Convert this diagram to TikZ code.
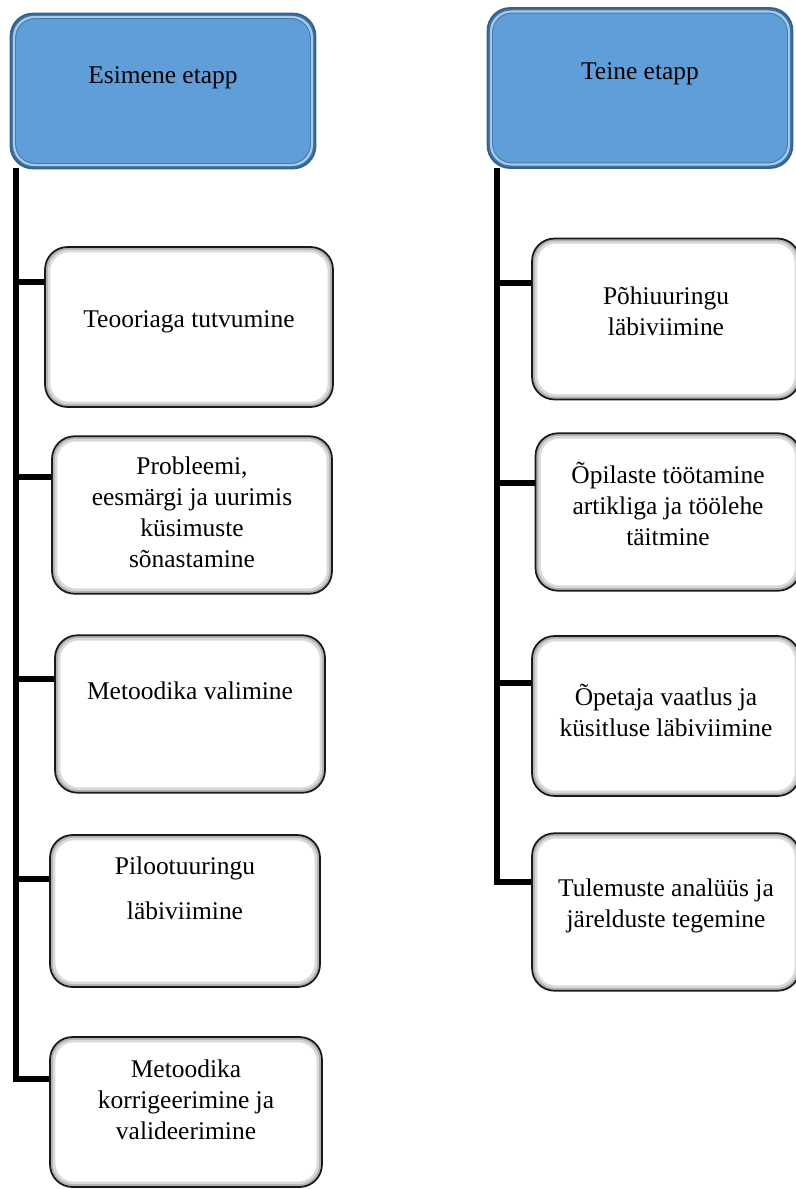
\documentclass[tikz,border=0pt]{standalone}
\usepackage{fontspec}
\setmainfont{Liberation Serif}
\usepackage{tikz}
\usetikzlibrary{positioning}
\definecolor{etappblue}{RGB}{95,158,217}
\definecolor{etappedge}{RGB}{52,98,142}

\begin{document}
\begin{tikzpicture}[x=0.02cm, y=-0.02cm, every node/.style={font=\fontsize{14.5}{17.6}\selectfont, align=center},
  etapp/.style={draw=etappedge, line width=1pt, fill=etappedge!75!etappblue, rounded corners=0.45cm, minimum width=6.1cm, minimum height=3.1cm,
    path picture={
      \fill[etappblue!55!white, rounded corners=0.42cm] ([shift={(1.4pt,-1.4pt)}]path picture bounding box.north west) rectangle ([shift={(-1.4pt,1.4pt)}]path picture bounding box.south east);
      \fill[etappedge!60!etappblue, rounded corners=0.4cm] ([shift={(2.6pt,-2.6pt)}]path picture bounding box.north west) rectangle ([shift={(-2.6pt,2.6pt)}]path picture bounding box.south east);
      \fill[etappblue, rounded corners=0.38cm] ([shift={(3.2pt,-3.2pt)}]path picture bounding box.north west) rectangle ([shift={(-3.2pt,3.2pt)}]path picture bounding box.south east);}},
  tegevus/.style={draw=black!90, line width=1pt, fill=gray!60, rounded corners=0.45cm, minimum height=3.15cm,
    path picture={
      \fill[gray!30, rounded corners=0.41cm] ([shift={(1.6pt,-1.6pt)}]path picture bounding box.north west) rectangle ([shift={(-1.6pt,1.6pt)}]path picture bounding box.south east);
      \fill[white, rounded corners=0.38cm] ([shift={(3pt,-3pt)}]path picture bounding box.north west) rectangle ([shift={(-3pt,3pt)}]path picture bounding box.south east);}},
  joon/.style={line width=3.4pt}]
\useasboundingbox (0,0) rectangle (795,1189);
% stages
\node[etapp, text depth=0.64cm] (esimene) at (163,91) {Esimene etapp};
\node[etapp, text depth=0.66cm, minimum height=3.2cm] (teine) at (640,88) {Teine etapp};
% first stage
\node[tegevus, minimum width=5.76cm, minimum height=3.2cm, text depth=0.3cm] (teooria) at (189,327) {Teooriaga tutvumine};
\node[tegevus, minimum width=5.6cm, text depth=0.1cm] (probleem) at (192,515) {Probleemi,\\ eesmärgi ja uurimis\\ küsimuste\\ sõnastamine};
\node[tegevus, minimum width=5.4cm, text depth=0.94cm] (valik) at (190,714) {Metoodika valimine};
\node[tegevus, minimum width=5.4cm, minimum height=3.04cm, text depth=0.92cm] (piloot) at (185,911) {Pilootuuringu\\[0.28cm] läbiviimine};
\node[tegevus, minimum width=5.44cm, minimum height=3.0cm, text depth=0.5cm] (korrigeerimine) at (186,1112) {Metoodika\\ korrigeerimine ja\\ valideerimine};
% second stage
\node[tegevus, minimum width=5.36cm, minimum height=3.22cm, text depth=0.3cm] (pohiuuring) at (666,319) {Põhiuuringu\\ läbiviimine};
\node[tegevus, minimum width=5.3cm, text depth=0.34cm] (artikkel) at (668,512) {Õpilaste töötamine\\ artikliga ja töölehe\\ täitmine};
\node[tegevus, minimum width=5.36cm, minimum height=3.2cm, text depth=0.24cm] (vaatlus) at (666,716) {Õpetaja vaatlus ja\\ küsitluse läbiviimine};
\node[tegevus, minimum width=5.36cm, text depth=0.34cm] (tulemused) at (666,912) {Tulemuste analüüs ja\\ järelduste tegemine};
% connectors
\coordinate (esimene juur) at (16,168);
\coordinate (teine juur) at (497,168);
\draw[joon] (esimene juur) |- ([yshift=-0.72cm]teooria.north west);
\draw[joon] (esimene juur) |- ([yshift=-0.84cm]probleem.north west);
\draw[joon] (esimene juur) |- ([yshift=-0.9cm]valik.north west);
\draw[joon] (esimene juur) |- ([yshift=-0.9cm]piloot.north west);
\draw[joon] (esimene juur) |- ([yshift=-0.86cm]korrigeerimine.north west);
\draw[joon] (teine juur) |- ([yshift=-0.9cm]pohiuuring.north west);
\draw[joon] (teine juur) |- ([yshift=-1.02cm]artikkel.north west);
\draw[joon] (teine juur) |- ([yshift=-0.96cm]vaatlus.north west);
\draw[joon] (teine juur) |- ([yshift=-1.0cm]tulemused.north west);
\end{tikzpicture}
\end{document}
